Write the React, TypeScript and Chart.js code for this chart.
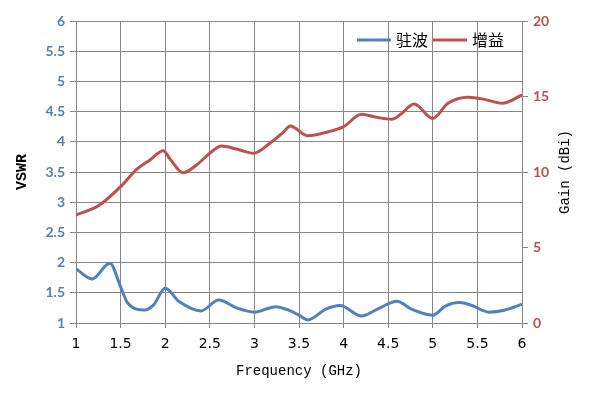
import React, { useEffect, useRef } from "react";
import { Chart, registerables } from "chart.js";

Chart.register(...registerables);

const vswrFreq = [1.0, 1.18, 1.38, 1.5, 1.58, 1.77, 1.87, 2.0, 2.16, 2.4, 2.6, 2.8, 3.0, 3.24, 3.37, 3.5, 3.6, 3.8, 3.96, 4.2, 4.38, 4.6, 4.76, 5.0, 5.14, 5.3, 5.44, 5.63, 5.8, 6.0];
const vswrValues = [1.9, 1.73, 1.99, 1.6, 1.33, 1.215, 1.3, 1.575, 1.35, 1.2, 1.38, 1.25, 1.18, 1.27, 1.22, 1.13, 1.05, 1.23, 1.29, 1.116, 1.23, 1.36, 1.23, 1.13, 1.28, 1.34, 1.29, 1.18, 1.21, 1.31];

const gainFreq = [1.0, 1.26, 1.5, 1.68, 1.83, 1.98, 2.05, 2.2, 2.35, 2.5, 2.63, 2.8, 2.99, 3.18, 3.33, 3.4, 3.6, 3.83, 4.0, 4.2, 4.37, 4.54, 4.63, 4.79, 5.0, 5.17, 5.4, 5.58, 5.78, 6.0];
const gainValues = [7.15, 7.8, 9.03, 10.18, 10.8, 11.41, 10.9, 9.95, 10.46, 11.24, 11.72, 11.52, 11.24, 11.94, 12.67, 13.05, 12.4, 12.67, 13.0, 13.82, 13.62, 13.49, 13.77, 14.5, 13.55, 14.55, 14.95, 14.81, 14.55, 15.1];

const seriesNames = ["驻波", "增益"];
const xTitle = "Frequency (GHz)";
const yLeftTitle = "VSWR";
const yRightTitle = "Gain (dBi)";

const BLUE = "#4F81BD";
const RED = "#C0504D";
const GRID = "rgb(134,134,134)";

const fmt = (v: any) => String(Math.round(Number(v) * 100) / 100);

const overlayPlugin = {
  id: "overlay",
  afterDraw(chart: any) {
    const { ctx, chartArea } = chart;
    const cy = (chartArea.top + chartArea.bottom) / 2;
    const cx = (chartArea.left + chartArea.right) / 2;
    ctx.save();
    ctx.fillStyle = "#000";
    ctx.textAlign = "center";
    ctx.textBaseline = "middle";
    ctx.font = "14px 'Liberation Mono'";
    ctx.fillText(xTitle, cx, chartArea.bottom + 48);
    ctx.save();
    ctx.translate(chartArea.left - 54, cy);
    ctx.rotate(-Math.PI / 2);
    ctx.font = "bold 15px 'Liberation Mono'";
    ctx.fillText(yLeftTitle, 0, 0);
    ctx.restore();
    ctx.save();
    ctx.translate(chartArea.right + 43, cy);
    ctx.rotate(-Math.PI / 2);
    ctx.font = "14px 'Liberation Mono'";
    ctx.fillText(yRightTitle, 0, 0);
    ctx.restore();
    const ly = chartArea.top + 19;
    const colors = [BLUE, RED];
    let lx = chartArea.right - 165;
    ctx.font = "16px 'Noto Sans CJK SC'";
    ctx.textAlign = "left";
    for (let i = 0; i < seriesNames.length; i++) {
      ctx.strokeStyle = colors[i];
      ctx.lineWidth = 3;
      ctx.beginPath();
      ctx.moveTo(lx, ly);
      ctx.lineTo(lx + 34, ly);
      ctx.stroke();
      ctx.fillStyle = "#000";
      ctx.fillText(seriesNames[i], lx + 39, ly);
      lx += 76;
    }
    ctx.restore();
  },
};

export default function App() {
  const ref = useRef<HTMLCanvasElement>(null);
  useEffect(() => {
    document.body.style.margin = "0";
    const canvas = ref.current!;
    const chart = new Chart(canvas, {
      type: "line",
      data: {
        datasets: [
          {
            label: seriesNames[0],
            data: vswrFreq.map((f, i) => ({ x: f, y: vswrValues[i] })),
            borderColor: BLUE,
            borderWidth: 3,
            pointRadius: 0,
            cubicInterpolationMode: "monotone",
            yAxisID: "y",
          },
          {
            label: seriesNames[1],
            data: gainFreq.map((f, i) => ({ x: f, y: gainValues[i] })),
            borderColor: RED,
            borderWidth: 3,
            pointRadius: 0,
            cubicInterpolationMode: "monotone",
            yAxisID: "y1",
          },
        ],
      },
      options: {
        responsive: false,
        animation: false,
        devicePixelRatio: 1,
        layout: { padding: { top: 21, left: 0, right: 0, bottom: 0 } },
        plugins: { legend: { display: false }, tooltip: { enabled: false } },
        scales: {
          x: {
            type: "linear",
            min: 1,
            max: 6,
            ticks: {
              stepSize: 0.5,
              color: "#000",
              padding: 8,
              font: { family: "'DejaVu Sans'", size: 14 },
              callback: fmt,
            },
            grid: { color: GRID, tickLength: 5, tickColor: GRID },
            border: { color: GRID },
            afterFit: (s: any) => {
              s.height = 81;
            },
          },
          y: {
            position: "left",
            min: 1,
            max: 6,
            ticks: {
              stepSize: 0.5,
              color: BLUE,
              padding: 5,
              font: { family: "Lato", size: 14, weight: "bold" },
              callback: fmt,
            },
            grid: { color: GRID, tickLength: 6, tickColor: GRID },
            border: { color: GRID },
            afterFit: (s: any) => {
              s.width = 76;
            },
          },
          y1: {
            position: "right",
            min: 0,
            max: 20,
            ticks: {
              stepSize: 5,
              color: RED,
              padding: 5,
              font: { family: "Lato", size: 14, weight: "bold" },
              callback: fmt,
            },
            grid: { drawOnChartArea: false, color: GRID, tickLength: 6, tickColor: GRID },
            border: { color: GRID },
            afterFit: (s: any) => {
              s.width = 72;
            },
          },
        },
      },
      plugins: [overlayPlugin],
    } as any);
    return () => chart.destroy();
  }, []);
  return <canvas ref={ref} width={594} height={404} style={{ display: "block" }} />;
}
